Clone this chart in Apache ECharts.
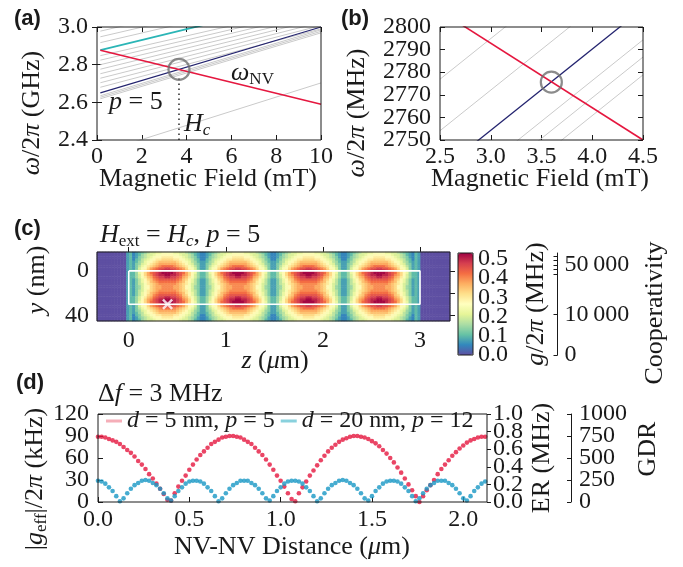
<!DOCTYPE html>
<html>
<head>
<meta charset="utf-8">
<title>NV - spin wave coupling</title>
<script src="https://cdn.jsdelivr.net/npm/echarts@6.0.0/dist/echarts.min.js"></script>
<style>
  html, body { margin: 0; padding: 0; background: #fff; }
  #chart { width: 683px; height: 567px; }
</style>
</head>
<body>
<div id="chart"></div>
<script>
// ---------- (a) mode frequencies (GHz) read at both ends of the field sweep ----------
const sweepA = [0.15, 10]
const nvLineA = [2.877, 2.59]
const modeP5A = [2.650, 3.0]
const modeTopA = [2.877, 3.163]
const grayFromA = [2.680, 2.704, 2.728, 2.752, 2.776, 2.800, 2.824, 2.848, 2.635, 2.627, 2.619, 2.917, 2.948, 2.978, 2.333]
const grayToA = [2.990, 3.008, 3.025, 3.044, 3.062, 3.080, 3.098, 3.116, 2.985, 2.977, 2.969, 3.190, 3.220, 3.250, 2.703]
const crossA = [3.66, 2.775]
const hcSpanA = [2.4, 2.727]
const xTicksA = [0, 2, 4, 6, 8, 10]
const yTicksA = [2.4, 2.6, 2.8, 3.0]

// ---------- (b) zoom on the crossing (MHz) ----------
const sweepB = [2.5, 4.5]
const nvLineB = [2807.1, 2750]
const modeP5B = [2736.3, 2808.2]
const grayFromB = [2776.9, 2754.1, 2722.3, 2714.7, 2706.8]
const grayToB = [2848.8, 2826.0, 2794.3, 2786.7, 2778.8]
const crossB = [3.597, 2775.6]
const xTicksB = [2.5, 3.0, 3.5, 4.0, 4.5]
const yTicksB = [2750, 2760, 2770, 2780, 2790, 2800]

// ---------- (c) coupling map g/2pi (MHz) ----------
const zRange = [-0.327, 3.309]
const yRange = [-17, 45]
const zTicks = [0, 1, 2, 3]
const yTicksC = [0, 20, 40]
const gLevel = 0.025          // one step of the level characters below
// half of one lobe (boundary -> centre), one string per 2 nm row from y = -16 to 44
const lobeHalfRows = [
  '2345678899aa', '23467889aabb', '2356789abbcc', '245789abccdd', '34679abcdeee',
  '35689bcdefff', '3579acdefghh', '358abdfghiij', '468aceghijkk', '469bdfhijkll',
  '468bdfgijkkl', '468acefhijjk', '3579bdeghiii', '3579bcefghhh', '3578acdefggg',
  '3568abdeffgg', '3568abdeffgg', '3578acdefggg', '3579bcefghhh', '3579bdeghiii',
  '468acefhijjk', '468bdfgijkkl', '469bdfhijkll', '468aceghijkk', '358abdfghiij',
  '3579acdefghh', '35689bcdefff', '34679abcdeee', '245789abccdd', '2356789abbcc',
  '23467889aabb'
]
const lobeCount = 4
const outsideCols = 10
const edgeLeft = '34'
const edgeRight = '43'
const filmZ = [0, 3]
const filmY = [0, 30]
const nvSpot = [0.4, 30]
const gMax = 0.53
const gTicks = [0, 0.1, 0.2, 0.3, 0.4, 0.5]
const coopPerG2 = 228000
const coopLabels = [0, 10000, 50000]
const coopTicks = [0, 10000, 40000, 45000, 50000, 55000, 60000]

// ---------- (d) effective coupling vs NV-NV distance ----------
const nvDistance = [
  0, 0.02, 0.04, 0.06, 0.08, 0.1, 0.12, 0.14, 0.16, 0.18,
  0.2, 0.22, 0.24, 0.26, 0.28, 0.3, 0.32, 0.34, 0.36, 0.38,
  0.4, 0.42, 0.44, 0.46, 0.48, 0.5, 0.52, 0.54, 0.56, 0.58,
  0.6, 0.62, 0.64, 0.66, 0.68, 0.7, 0.72, 0.74, 0.76, 0.78,
  0.8, 0.82, 0.84, 0.86, 0.88, 0.9, 0.92, 0.94, 0.96, 0.98,
  1, 1.02, 1.04, 1.06, 1.08, 1.1, 1.12, 1.14, 1.16, 1.18,
  1.2, 1.22, 1.24, 1.26, 1.28, 1.3, 1.32, 1.34, 1.36, 1.38,
  1.4, 1.42, 1.44, 1.46, 1.48, 1.5, 1.52, 1.54, 1.56, 1.58,
  1.6, 1.62, 1.64, 1.66, 1.68, 1.7, 1.72, 1.74, 1.76, 1.78,
  1.8, 1.82, 1.84, 1.86, 1.88, 1.9, 1.92, 1.94, 1.96, 1.98,
  2, 2.02, 2.04, 2.06, 2.08, 2.1, 2.12
]
const gEffD5 = [
  89, 89, 88, 86, 84, 82, 79, 75, 71, 67,
  62, 56, 51, 45, 38, 32, 25, 18, 11, 3,
  2, 12, 21, 29, 36, 44, 51, 58, 64, 69,
  74, 79, 82, 85, 88, 89, 90, 90, 89, 88,
  85, 82, 79, 74, 69, 64, 58, 51, 44, 36,
  29, 21, 12, 4, 1, 12, 20, 28, 36, 43,
  50, 57, 63, 69, 74, 78, 82, 85, 87, 89,
  90, 90, 89, 88, 86, 83, 80, 76, 71, 66,
  60, 54, 47, 40, 32, 24, 16, 8, 0, 8,
  16, 23, 30, 38, 45, 51, 57, 63, 68, 73,
  77, 81, 84, 86, 88, 89, 89
]
const gEffD20 = [
  29, 28, 25, 20, 15, 8, 1, 5, 12, 18,
  23, 26, 29, 30, 29, 26, 23, 18, 12, 5,
  2, 8, 15, 20, 25, 28, 29, 29, 28, 25,
  20, 15, 8, 1, 5, 12, 18, 23, 26, 29,
  29, 29, 26, 23, 18, 12, 5, 2, 8, 15,
  20, 25, 28, 29, 29, 28, 25, 20, 15, 8,
  1, 5, 12, 18, 23, 26, 29, 30, 29, 26,
  23, 18, 12, 5, 2, 8, 15, 20, 25, 28,
  29, 29, 28, 25, 20, 15, 8, 1, 5, 12,
  18, 23, 26, 29, 29, 29, 26, 23, 18, 12,
  5, 2, 8, 15, 20, 25, 28
]
const dMax = 2.13
const xTicksD = [0, 0.5, 1.0, 1.5, 2.0]
const yTicksD = [0, 30, 60, 90, 120]
const erTicks = [0, 0.2, 0.4, 0.6, 0.8, 1.0]
const gdrTicks = [0, 250, 500, 750, 1000]
const legendText = {
  d5: '{i|d} = 5 nm, {i|p} = 5',
  d20: '{i|d} = 20 nm, {i|p} = 12'
}

// ---------- styles ----------
const ink = '#1a1a1a'
const serif = 'Liberation Serif'
const red = '#e5173f'
const navy = '#24246f'
const cyan = '#2bb5b6'
const gray = '#cacaca'
const spectral = ['#5e4fa2', '#3288bd', '#66c2a5', '#abdda4', '#e6f598', '#ffffbf', '#fee08b', '#fdae61', '#f46d43', '#d53e4f', '#9e0142']

const fmt0 = v => String(Math.round(v))
const fmt1 = v => v.toFixed(1)
const thousands = v => {
  const n = Math.round(v)
  return n >= 10000 ? String(n).replace(/\B(?=(\d{3})+(?!\d))/g, '\u2009') : String(n)
}
const evens = arr => arr.filter((_, i) => i % 2 === 0)
const odds = arr => arr.filter((_, i) => i % 2 === 1)

const valueAxis = (grid, position, min, max, vals, o) => ({
  type: 'value', gridIndex: grid, position: position, min: min, max: max,
  inverse: !!o.inverse, offset: o.offset || 0,
  axisLine: { show: !!o.line, lineStyle: { color: ink, width: 1 } },
  splitLine: { show: false },
  axisTick: {
    show: o.ticks !== false, customValues: o.tickVals || vals, inside: !!o.inside,
    length: o.tickLen || 5, lineStyle: { color: ink, width: 1 }
  },
  axisLabel: {
    show: !!o.fmt, customValues: vals, formatter: o.fmt, margin: o.margin || 8,
    showMinLabel: true, showMaxLabel: true, hideOverlap: false,
    fontFamily: serif, fontSize: 24, color: ink
  }
})
// a second copy of an axis that only carries the labels the first one leaves out
const labelAxis = (grid, position, min, max, vals, o) =>
  valueAxis(grid, position, min, max, vals, Object.assign({}, o, { line: false, ticks: false }))
const hiddenCategory = (grid, n, inverse) => ({
  type: 'category', gridIndex: grid, show: false, inverse: !!inverse,
  data: Array.from({ length: n }, (_, i) => i)
})

const segment = (xi, yi, pts, color, width, type) => ({
  type: 'line', xAxisIndex: xi, yAxisIndex: yi, data: pts, symbol: 'none',
  silent: true, clip: true, z: 2,
  lineStyle: { color: color, width: width, type: type || 'solid' }
})
const ring = (xi, yi, pt) => ({
  type: 'scatter', xAxisIndex: xi, yAxisIndex: yi, data: [pt], symbol: 'circle',
  symbolSize: 21, silent: true, z: 5,
  itemStyle: { color: 'rgba(0,0,0,0)', borderColor: '#6e6e6e', borderWidth: 2.2 }
})

// ---------- heatmap cells ----------
const heatData = []
lobeHalfRows.forEach((half, r) => {
  const lobe = half + half.split('').reverse().join('')
  const row = '0'.repeat(outsideCols) + edgeLeft + lobe.repeat(lobeCount) + edgeRight + '0'.repeat(outsideCols)
  row.split('').forEach((ch, c) => heatData.push([c, r, parseInt(ch, 36) * gLevel]))
})
const heatCols = outsideCols * 2 + edgeLeft.length + edgeRight.length + lobeCount * 24

// ---------- series ----------
// axis indices: a -> x0/y0, b -> x2/y2, c -> x4,x5/y4,y5, d -> x8/y9
const series = []
grayFromA.forEach((v, i) => series.push(segment(0, 0, [[sweepA[0], v], [sweepA[1], grayToA[i]]], gray, 1)))
series.push(segment(0, 0, [[sweepA[0], modeTopA[0]], [sweepA[1], modeTopA[1]]], cyan, 1.8))
series.push(segment(0, 0, [[sweepA[0], modeP5A[0]], [sweepA[1], modeP5A[1]]], navy, 1.3))
series.push(segment(0, 0, [[sweepA[0], nvLineA[0]], [sweepA[1], nvLineA[1]]], red, 1.6))
series.push(segment(0, 0, [[crossA[0], hcSpanA[0]], [crossA[0], hcSpanA[1]]], '#333', 1.6, [1.6, 3.4]))
series.push(ring(0, 0, crossA))

grayFromB.forEach((v, i) => series.push(segment(2, 2, [[sweepB[0], v], [sweepB[1], grayToB[i]]], gray, 1)))
series.push(segment(2, 2, [[sweepB[0], modeP5B[0]], [sweepB[1], modeP5B[1]]], navy, 1.3))
series.push(segment(2, 2, [[sweepB[0], nvLineB[0]], [sweepB[1], nvLineB[1]]], red, 1.6))
series.push(ring(2, 2, crossB))

const heatIndex = series.length
series.push({
  type: 'heatmap', xAxisIndex: 4, yAxisIndex: 4, data: heatData,
  progressive: 0, silent: true, itemStyle: { borderWidth: 0 }, emphasis: { disabled: true }
})
series.push(segment(5, 5, [[filmZ[0], filmY[0]], [filmZ[1], filmY[0]], [filmZ[1], filmY[1]], [filmZ[0], filmY[1]], [filmZ[0], filmY[0]]], '#ffffff', 1.6))
series.push({
  type: 'scatter', xAxisIndex: 5, yAxisIndex: 5, data: [nvSpot], silent: true, z: 6,
  symbol: 'path://M0,1.6L1.6,0L5,3.4L8.4,0L10,1.6L6.6,5L10,8.4L8.4,10L5,6.6L1.6,10L0,8.4L3.4,5Z',
  symbolSize: 11, itemStyle: { color: '#ffffff' }
})

series.push({
  name: 'd5', type: 'scatter', xAxisIndex: 8, yAxisIndex: 9, clip: false, silent: true,
  data: nvDistance.map((x, i) => [x, gEffD5[i]]), symbolSize: 4.6, itemStyle: { color: red }
})
series.push({
  name: 'd20', type: 'scatter', xAxisIndex: 8, yAxisIndex: 9, clip: false, silent: true,
  data: nvDistance.map((x, i) => [x, gEffD20[i]]), symbolSize: 4.6, itemStyle: { color: '#1897c4' }
})

// ---------- free text ----------
const rich = {
  i: { fontFamily: serif, fontStyle: 'italic', fontSize: 26, lineHeight: 30, fill: ink, color: ink },
  s: { fontFamily: serif, fontSize: 17, lineHeight: 18, verticalAlign: 'bottom', fill: ink, color: ink },
  si: { fontFamily: serif, fontStyle: 'italic', fontSize: 17, lineHeight: 18, verticalAlign: 'bottom', fill: ink, color: ink }
}
const txt = (x, y, text, o) => ({
  type: 'text', x: x, y: y, rotation: (o && o.rot) ? Math.PI / 2 : 0, silent: true, z: 20,
  style: {
    text: text, fontFamily: serif, fontSize: 26, lineHeight: 30, fill: ink,
    align: (o && o.align) || 'center', verticalAlign: 'middle', rich: rich
  }
})
const panelTag = (x, y, t) => ({
  type: 'text', x: x, y: y, silent: true, z: 20,
  style: { text: t, fontFamily: 'Liberation Sans', fontWeight: 'bold', fontSize: 22, fill: ink, align: 'left', verticalAlign: 'middle' }
})

const graphics = [
  panelTag(14, 19, '(a)'), panelTag(341, 19, '(b)'), panelTag(14, 229, '(c)'), panelTag(16, 383, '(d)'),
  txt(32, 113, '{i|ω}/2{i|π} (GHz)', { rot: true }),
  txt(357, 113, '{i|ω}/2{i|π} (MHz)', { rot: true }),
  txt(208, 179, 'Magnetic Field (mT)'),
  txt(540, 179, 'Magnetic Field (mT)'),
  txt(231, 73, '{i|ω}{s|NV}', { align: 'left' }),
  txt(109, 102, '{i|p} = 5', { align: 'left' }),
  txt(184, 124, '{i|H}{si|c}', { align: 'left' }),
  txt(100, 235, '{i|H}{s|ext} = {i|H}{si|c}, {i|p} = 5', { align: 'left' }),
  txt(37, 280, '{i|y} (nm)', { rot: true }),
  txt(275, 361, '{i|z} ({i|μ}m)'),
  txt(536, 304, '{i|g}/2{i|π} (MHz)', { rot: true }),
  txt(655, 313, 'Cooperativity', { rot: true }),
  txt(98, 394, 'Δ{i|f} = 3 MHz', { align: 'left' }),
  txt(35, 479, '|{i|g}{s|eff}|/2{i|π} (kHz)', { rot: true }),
  txt(542, 458, 'ER (MHz)', { rot: true }),
  txt(648, 449, 'GDR', { rot: true }),
  txt(292, 547, 'NV-NV Distance ({i|μ}m)')
]

const coopMax = Math.sqrt(coopPerG2) * gMax
const gridBase = { show: true, borderColor: ink, borderWidth: 1, backgroundColor: 'transparent', z: 10, outerBoundsMode: 'none' }
const option = {
  animation: false,
  textStyle: { fontFamily: serif },
  grid: [
    { left: 97, top: 27, width: 224, height: 113 },
    { left: 440, top: 27, width: 203, height: 113 },
    { left: 97, top: 252, width: 353, height: 69 },
    { left: 458, top: 253, width: 15, height: 102 },
    { left: 98, top: 414, width: 389, height: 88 }
  ].map(g => Object.assign({}, gridBase, g)),
  xAxis: [
    valueAxis(0, 'bottom', 0, 10, xTicksA, { inside: true, fmt: fmt0, margin: 5 }),
    valueAxis(0, 'top', 0, 10, xTicksA, { inside: true }),
    valueAxis(1, 'bottom', sweepB[0], sweepB[1], xTicksB, { inside: true, fmt: fmt1, margin: 5 }),
    valueAxis(1, 'top', sweepB[0], sweepB[1], xTicksB, { inside: true }),
    hiddenCategory(2, heatCols),
    valueAxis(2, 'bottom', zRange[0], zRange[1], zTicks, { fmt: fmt0, margin: 8 }),
    valueAxis(2, 'top', zRange[0], zRange[1], zTicks, {}),
    { type: 'value', gridIndex: 3, show: false },
    valueAxis(4, 'bottom', 0, dMax, xTicksD, { inside: true, fmt: fmt1, margin: 6 })
  ],
  yAxis: [
    valueAxis(0, 'left', 2.4, 3.0, yTicksA, { inside: true, fmt: fmt1, margin: 9 }),
    valueAxis(0, 'right', 2.4, 3.0, yTicksA, { inside: true }),
    valueAxis(1, 'left', 2750, 2800, evens(yTicksB), { inside: true, fmt: fmt0, margin: 9, tickVals: yTicksB }),
    valueAxis(1, 'right', 2750, 2800, yTicksB, { inside: true }),
    hiddenCategory(2, lobeHalfRows.length, true),
    valueAxis(2, 'left', yRange[0], yRange[1], yTicksC, { inverse: true, fmt: fmt0, margin: 8 }),
    valueAxis(2, 'right', yRange[0], yRange[1], yTicksC, { inverse: true }),
    valueAxis(3, 'right', 0, gMax, evens(gTicks), { fmt: fmt1, margin: 5, ticks: false }),
    valueAxis(3, 'right', 0, coopMax, coopLabels.map(Math.sqrt), {
      offset: 84.5, line: true, inside: true, tickLen: 4,
      tickVals: coopTicks.map(Math.sqrt), fmt: v => thousands(v * v), margin: 7
    }),
    valueAxis(4, 'left', 0, 120, evens(yTicksD), { inside: true, fmt: fmt0, margin: 9, tickVals: yTicksD }),
    valueAxis(4, 'right', 0, 1, evens(erTicks), { fmt: fmt1, margin: 6, tickLen: 4, tickVals: erTicks }),
    valueAxis(4, 'right', 0, 1000, evens(gdrTicks), { offset: 84, line: true, inside: true, tickLen: 4, fmt: fmt0, margin: 8, tickVals: gdrTicks }),
    // label-only twins for the densely labelled axes
    labelAxis(1, 'left', 2750, 2800, odds(yTicksB), { fmt: fmt0, margin: 9 }),
    labelAxis(3, 'right', 0, gMax, odds(gTicks), { fmt: fmt1, margin: 5 }),
    labelAxis(4, 'left', 0, 120, odds(yTicksD), { fmt: fmt0, margin: 9 }),
    labelAxis(4, 'right', 0, 1, odds(erTicks), { fmt: fmt1, margin: 6 }),
    labelAxis(4, 'right', 0, 1000, odds(gdrTicks), { offset: 84, fmt: fmt0, margin: 8 })
  ],
  visualMap: {
    type: 'continuous', seriesIndex: heatIndex, min: 0, max: gMax,
    orient: 'vertical', left: 458, top: 253, itemWidth: 15, itemHeight: 102,
    padding: 0, calculable: false, hoverLink: false,
    inRange: { color: spectral }
  },
  legend: {
    left: 106, top: 409, padding: 0, itemGap: 6, itemWidth: 16, itemHeight: 3,
    selectedMode: false,
    data: [
      { name: 'd5', icon: 'rect', itemStyle: { color: '#f29aa6' } },
      { name: 'd20', icon: 'rect', itemStyle: { color: '#6cc6d4' } }
    ],
    formatter: n => legendText[n],
    textStyle: {
      fontFamily: serif, fontSize: 24, color: ink,
      rich: { i: { fontFamily: serif, fontStyle: 'italic', fontSize: 24, color: ink } }
    }
  },
  graphic: graphics,
  series: series
}

const chart = echarts.init(document.getElementById('chart'))
chart.setOption(option)
</script>
</body>
</html>
